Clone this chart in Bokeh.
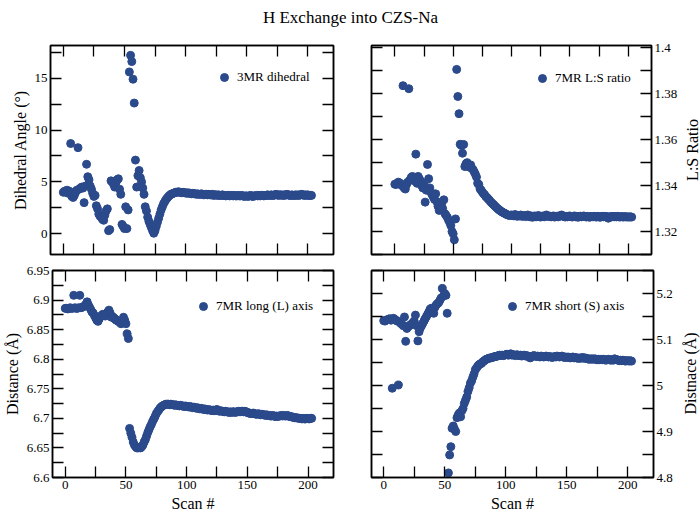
import math
from bokeh.plotting import figure
from bokeh.layouts import column, row
from bokeh.models import (LinearAxis, FixedTicker, NumeralTickFormatter, Range1d,
                          Legend, LegendItem, ColumnDataSource, Label)
from bokeh.embed import file_html
from bokeh.resources import INLINE

FONT = "Liberation Serif"
COLOR = "#2b4a8b"

scan = list(range(204))

# tick positions (labelled majors, unlabelled minors)
x_major = [0, 50, 100, 150, 200]
x_minor = [25, 75, 125, 175]
dih_major = [0, 5, 10, 15]
dih_minor = [2.5, 7.5, 12.5, 17.5]
ratio_major = [1.32, 1.34, 1.36, 1.38, 1.40]
ratio_minor = [1.31, 1.33, 1.35, 1.37, 1.39]
long_major = [6.6, 6.65, 6.7, 6.75, 6.8, 6.85, 6.9, 6.95]
long_minor = [6.625, 6.675, 6.725, 6.775, 6.825, 6.875, 6.925]
short_major = [4.8, 4.9, 5.0, 5.1, 5.2]
short_minor = [4.85, 4.95, 5.05, 5.15, 5.25]

dihedral = [
    4.0, 4.1, 4.0, 4.2, 3.9, 4.1, 8.7, 3.6, 3.5, 3.7,
    4.0, 4.2, 8.3, 4.3, 4.4, 4.5, 4.4, 3.0, 4.6, 6.7,
    5.5, 5.2, 4.6, 4.3, 3.9, 3.6, 3.7, 2.7, 2.4, 1.9,
    1.7, 1.6, 1.4, 1.3, 1.8, 2.2, 2.4, 0.3, 0.4, 5.1,
    5.0, 4.8, 4.5, 4.9, 5.2, 5.3, 4.3, 3.8, 0.9, 0.7,
    0.5, 2.6, 0.5, 2.3, 15.6, 17.2, 16.6, 14.9, 12.6, 7.1,
    4.5, 5.6, 6.1, 5.4, 5.0, 4.4, 3.8, 2.6, 2.2, 1.6,
    1.2, 0.9, 0.6, 0.3, 0.05, 0.3, 0.7, 1.1, 1.5, 1.9,
    2.3, 2.6, 2.9, 3.1, 3.3, 3.45, 3.6, 3.7, 3.8, 3.85,
    3.9, 3.95, 4.0, 4.0, 4.05, 4.0, 4.0, 3.95, 4.0, 3.95,
    3.95, 3.9, 3.95, 3.9, 3.9, 3.85, 3.9, 3.85, 3.85, 3.8,
    3.85, 3.8, 3.8, 3.85, 3.8, 3.75, 3.8, 3.8, 3.75, 3.8,
    3.75, 3.75, 3.8, 3.7, 3.75, 3.75, 3.7, 3.75, 3.7, 3.7,
    3.75, 3.7, 3.7, 3.65, 3.7, 3.7, 3.65, 3.7, 3.7, 3.65,
    3.7, 3.65, 3.65, 3.7, 3.65, 3.65, 3.7, 3.65, 3.6, 3.65,
    3.65, 3.6, 3.65, 3.7, 3.65, 3.6, 3.65, 3.65, 3.7, 3.65,
    3.7, 3.65, 3.7, 3.7, 3.65, 3.7, 3.7, 3.75, 3.7, 3.7,
    3.75, 3.7, 3.7, 3.75, 3.8, 3.75, 3.7, 3.75, 3.75, 3.7,
    3.75, 3.7, 3.75, 3.8, 3.75, 3.7, 3.7, 3.75, 3.7, 3.7,
    3.75, 3.7, 3.75, 3.7, 3.75, 3.8, 3.75, 3.7, 3.75, 3.7,
    3.75, 3.7, 3.7, 3.7,
]

ls_ratio = [
    1.3406, 1.3405, 1.3410, 1.3415, 1.3412, 1.3408, 1.3400, 1.3835, 1.3390, 1.3385,
    1.3405, 1.3415, 1.3822, 1.3425, 1.3435, 1.3440, 1.3430, 1.3420, 1.3537, 1.3410,
    1.3440, 1.3430, 1.3420, 1.3400, 1.3390, 1.3410, 1.3328, 1.3380, 1.3492, 1.3430,
    1.3390, 1.3370, 1.3360, 1.3350, 1.3340, 1.3364, 1.3330, 1.3310, 1.3292, 1.3300,
    1.3320, 1.3300, 1.3338, 1.3277, 1.3270, 1.3262, 1.3250, 1.3240, 1.3226, 1.3200,
    1.3190, 1.3164, 1.3255, 1.3906, 1.3788, 1.3713, 1.3580, 1.3575, 1.3541, 1.3579,
    1.3483, 1.3495, 1.3500, 1.3490, 1.3480, 1.3490, 1.3475, 1.3470, 1.3460, 1.3450,
    1.3437, 1.3410, 1.3405, 1.3386, 1.3380, 1.3372, 1.3365, 1.3360, 1.3352, 1.3348,
    1.3342, 1.3337, 1.3330, 1.3325, 1.3320, 1.3315, 1.3310, 1.3305, 1.3300, 1.3296,
    1.3292, 1.3288, 1.3285, 1.3282, 1.3280, 1.3276, 1.3274, 1.3272, 1.3270, 1.3271,
    1.3272, 1.3270, 1.3268, 1.3274, 1.3270, 1.3266, 1.3270, 1.3268, 1.3272, 1.3266,
    1.3268, 1.3270, 1.3265, 1.3268, 1.3272, 1.3266, 1.3264, 1.3268, 1.3262, 1.3266,
    1.3268, 1.3264, 1.3266, 1.3270, 1.3265, 1.3263, 1.3266, 1.3268, 1.3264, 1.3266,
    1.3272, 1.3268, 1.3265, 1.3267, 1.3264, 1.3266, 1.3268, 1.3263, 1.3265, 1.3267,
    1.3264, 1.3266, 1.3270, 1.3272, 1.3268, 1.3265, 1.3263, 1.3266, 1.3264, 1.3266,
    1.3268, 1.3265, 1.3263, 1.3266, 1.3268, 1.3264, 1.3266, 1.3262, 1.3265, 1.3267,
    1.3264, 1.3266, 1.3268, 1.3265, 1.3263, 1.3266, 1.3264, 1.3262, 1.3265, 1.3266,
    1.3264, 1.3266, 1.3265, 1.3263, 1.3266, 1.3264, 1.3262, 1.3265, 1.3266, 1.3264,
    1.3266, 1.3264, 1.3265, 1.3258, 1.3263, 1.3265, 1.3264, 1.3266, 1.3264, 1.3265,
    1.3264, 1.3266, 1.3264, 1.3263, 1.3265, 1.3264, 1.3263, 1.3265, 1.3264, 1.3263,
    1.3264, 1.3263, 1.3264, 1.3263,
]

long_axis = [
    6.886, 6.886, 6.885, 6.886, 6.887, 6.886, 6.886, 6.908, 6.887, 6.886,
    6.886, 6.887, 6.908, 6.887, 6.888, 6.889, 6.890, 6.893, 6.897, 6.892,
    6.888, 6.884, 6.880, 6.878, 6.874, 6.870, 6.866, 6.864, 6.868, 6.872,
    6.874, 6.876, 6.874, 6.873, 6.876, 6.880, 6.883, 6.878, 6.871, 6.872,
    6.870, 6.868, 6.866, 6.865, 6.864, 6.862, 6.860, 6.864, 6.871, 6.866,
    6.860, 6.843, 6.835, 6.683, 6.675, 6.668, 6.660, 6.655, 6.652, 6.650,
    6.650, 6.651, 6.650, 6.652, 6.655, 6.660, 6.664, 6.670, 6.676, 6.681,
    6.686, 6.690, 6.695, 6.699, 6.703, 6.708, 6.711, 6.714, 6.717, 6.719,
    6.721, 6.722, 6.723, 6.724, 6.724, 6.724, 6.723, 6.724, 6.723, 6.723,
    6.722, 6.723, 6.722, 6.722, 6.721, 6.722, 6.721, 6.721, 6.720, 6.721,
    6.720, 6.720, 6.719, 6.720, 6.719, 6.718, 6.719, 6.718, 6.717, 6.718,
    6.717, 6.716, 6.717, 6.716, 6.715, 6.716, 6.715, 6.714, 6.715, 6.714,
    6.714, 6.713, 6.714, 6.713, 6.714, 6.715, 6.713, 6.712, 6.713, 6.712,
    6.712, 6.711, 6.712, 6.711, 6.711, 6.710, 6.711, 6.710, 6.711, 6.711,
    6.710, 6.711, 6.711, 6.712, 6.711, 6.712, 6.712, 6.711, 6.712, 6.711,
    6.710, 6.709, 6.709, 6.708, 6.708, 6.709, 6.708, 6.707, 6.707, 6.708,
    6.707, 6.706, 6.707, 6.706, 6.706, 6.705, 6.706, 6.705, 6.705, 6.704,
    6.704, 6.705, 6.704, 6.703, 6.704, 6.703, 6.704, 6.704, 6.705, 6.704,
    6.705, 6.704, 6.704, 6.705, 6.704, 6.703, 6.703, 6.702, 6.702, 6.701,
    6.701, 6.701, 6.700, 6.700, 6.700, 6.699, 6.700, 6.699, 6.699, 6.700,
    6.700, 6.699, 6.700, 6.700,
]

short_axis = [
    5.141, 5.140, 5.142, 5.143, 5.144, 5.145, 5.142, 4.994, 5.146, 5.144,
    5.142, 5.140, 5.001, 5.138, 5.135, 5.133, 5.130, 5.149, 5.096, 5.124,
    5.128, 5.130, 5.132, 5.134, 5.137, 5.140, 5.153, 5.130, 5.097, 5.117,
    5.125, 5.130, 5.135, 5.140, 5.145, 5.150, 5.155, 5.160, 5.166, 5.168,
    5.165, 5.157, 5.170, 5.175, 5.178, 5.180, 5.185, 5.190, 5.211, 5.195,
    5.200, 5.196, 5.157, 4.810, 4.849, 4.867, 4.907, 4.912, 4.905, 4.900,
    4.930, 4.936, 4.940, 4.932, 4.945, 4.950, 4.961, 4.968, 4.975, 4.987,
    4.995, 5.005, 5.010, 5.018, 5.025, 5.034, 5.038, 5.042, 5.045, 5.047,
    5.048, 5.051, 5.053, 5.055, 5.057, 5.058, 5.059, 5.060, 5.060, 5.061,
    5.062, 5.063, 5.063, 5.064, 5.065, 5.066, 5.065, 5.066, 5.065, 5.066,
    5.067, 5.068, 5.066, 5.067, 5.069, 5.066, 5.067, 5.066, 5.065, 5.067,
    5.066, 5.065, 5.066, 5.064, 5.065, 5.066, 5.064, 5.065, 5.064, 5.062,
    5.060, 5.063, 5.064, 5.065, 5.064, 5.063, 5.064, 5.063, 5.062, 5.064,
    5.063, 5.062, 5.063, 5.064, 5.063, 5.062, 5.063, 5.062, 5.061, 5.062,
    5.063, 5.062, 5.064, 5.063, 5.062, 5.063, 5.064, 5.062, 5.061, 5.062,
    5.061, 5.062, 5.061, 5.060, 5.061, 5.062, 5.060, 5.061, 5.060, 5.059,
    5.060, 5.059, 5.060, 5.061, 5.059, 5.060, 5.059, 5.058, 5.057, 5.058,
    5.057, 5.058, 5.057, 5.058, 5.057, 5.056, 5.057, 5.056, 5.057, 5.056,
    5.057, 5.056, 5.055, 5.056, 5.057, 5.056, 5.055, 5.056, 5.055, 5.058,
    5.057, 5.056, 5.055, 5.054, 5.055, 5.054, 5.055, 5.054, 5.053, 5.054,
    5.054, 5.053, 5.054, 5.053,
]

TICK_LEN = 11


def make_axis(major, minor, show_labels, label=None):
    if show_labels:
        ticker = FixedTicker(ticks=major, minor_ticks=minor)
    else:
        ticker = FixedTicker(ticks=[], minor_ticks=sorted(major + minor))
    ax = LinearAxis(
        ticker=ticker,
        formatter=NumeralTickFormatter(format="0.[00]"),
        major_tick_in=TICK_LEN, major_tick_out=0,
        minor_tick_in=TICK_LEN, minor_tick_out=0,
        major_tick_line_width=1.3, minor_tick_line_width=1.3,
        major_tick_line_color="black", minor_tick_line_color="black",
        axis_line_width=1.5, axis_line_color="black",
        major_label_text_font=FONT, major_label_text_font_size="13px",
        major_label_text_color="black", major_label_standoff=3,
    )
    if label:
        ax.axis_label = label
        ax.axis_label_text_font = FONT
        ax.axis_label_text_font_size = "16px"
        ax.axis_label_text_font_style = "normal"
        ax.axis_label_text_color = "black"
        ax.axis_label_standoff = 3
    return ax


def make_panel(ys, xr, yr, x_ticks, y_ticks, width, height, borders,
               y_label, y_side, x_label, legend_text, legend_loc):
    p = figure(width=width, height=height,
               x_range=Range1d(*xr), y_range=Range1d(*yr),
               x_axis_location=None, y_axis_location=None,
               toolbar_location=None, output_backend="svg",
               min_border_left=borders[0], min_border_right=borders[1],
               min_border_top=borders[2], min_border_bottom=borders[3],
               background_fill_color="white", border_fill_color="white")
    p.outline_line_color = "black"
    p.outline_line_width = 1.5
    p.grid.visible = False

    src = ColumnDataSource(data=dict(x=scan[:len(ys)], y=ys))
    r = p.scatter("x", "y", source=src, size=8, marker="circle",
                  fill_color=COLOR, line_color=COLOR)

    p.add_layout(make_axis(x_ticks[0], x_ticks[1], x_label is not None, x_label), "below")
    p.add_layout(make_axis(x_ticks[0], x_ticks[1], False), "above")

    other = "right" if y_side == "left" else "left"
    p.add_layout(make_axis(y_ticks[0], y_ticks[1], True, y_label), y_side)
    p.add_layout(make_axis(y_ticks[0], y_ticks[1], False), other)

    legend = Legend(items=[LegendItem(label=legend_text, renderers=[r])],
                    location=legend_loc, padding=0, margin=0, spacing=0,
                    glyph_width=20, glyph_height=20, label_standoff=3,
                    label_text_font=FONT, label_text_font_size="13px",
                    label_text_color="black",
                    border_line_color=None, background_fill_alpha=0)
    p.add_layout(legend)
    return p


def side_label(text, height, top, bottom, width, xpos):
    """Narrow strip holding a y-axis title that reads bottom-to-top."""
    f = figure(width=width, height=height, toolbar_location=None, output_backend="svg",
               x_axis_location=None, y_axis_location=None,
               min_border_left=0, min_border_right=0,
               min_border_top=top, min_border_bottom=bottom,
               background_fill_color="white", border_fill_color="white")
    f.outline_line_color = None
    f.grid.visible = False
    fh = height - top - bottom
    f.add_layout(Label(x=xpos, y=fh / 2, x_units="screen", y_units="screen",
                       text=text, angle=math.pi / 2, text_align="center",
                       text_baseline="middle", text_font=FONT,
                       text_font_size="16px", text_color="black"))
    return f


xt = (x_major, x_minor)

tl = make_panel(dihedral, (-10.5, 221), (-2.0, 18.15), xt, (dih_major, dih_minor),
                343, 222, (50, 10, 5, 8),
                "Dihedral Angle (°)", "left", None, "3MR dihedral", (164, 167))

tr = make_panel(ls_ratio, (-20, 220), (1.31, 1.401), xt, (ratio_major, ratio_minor),
                337, 222, (28, 27, 5, 8),
                None, "right", None, "7MR L:S ratio", (161, 166))
tr_lab = side_label("L:S Ratio", 222, 5, 8, 20, 12)

bl = make_panel(long_axis, (-10.5, 221), (6.6, 6.95), xt, (long_major, long_minor),
                343, 252, (50, 10, 8, 36),
                "Distance (Å)", "left", "Scan #", "7MR long (L) axis", (141, 161))

br = make_panel(short_axis, (-10, 221), (4.8, 5.25), xt, (short_major, short_minor),
                337, 252, (28, 27, 8, 36),
                None, "right", "Scan #", "7MR short (S) axis", (131, 161))
br_lab = side_label("Distnace (Å)", 252, 8, 36, 20, 10)

title_fig = figure(width=700, height=40, toolbar_location=None, output_backend="svg",
                   x_axis_location=None, y_axis_location=None,
                   min_border=0, background_fill_color="white", border_fill_color="white")
title_fig.outline_line_color = None
title_fig.grid.visible = False
title_fig.title.text = "H Exchange into CZS-Na"
title_fig.title.align = "center"
title_fig.title.text_font = FONT
title_fig.title.text_font_size = "17px"
title_fig.title.text_font_style = "normal"
title_fig.title.text_color = "black"

layout = column(title_fig, row(tl, tr, tr_lab), row(bl, br, br_lab))

open("out.html", "w").write(file_html(layout, INLINE))
